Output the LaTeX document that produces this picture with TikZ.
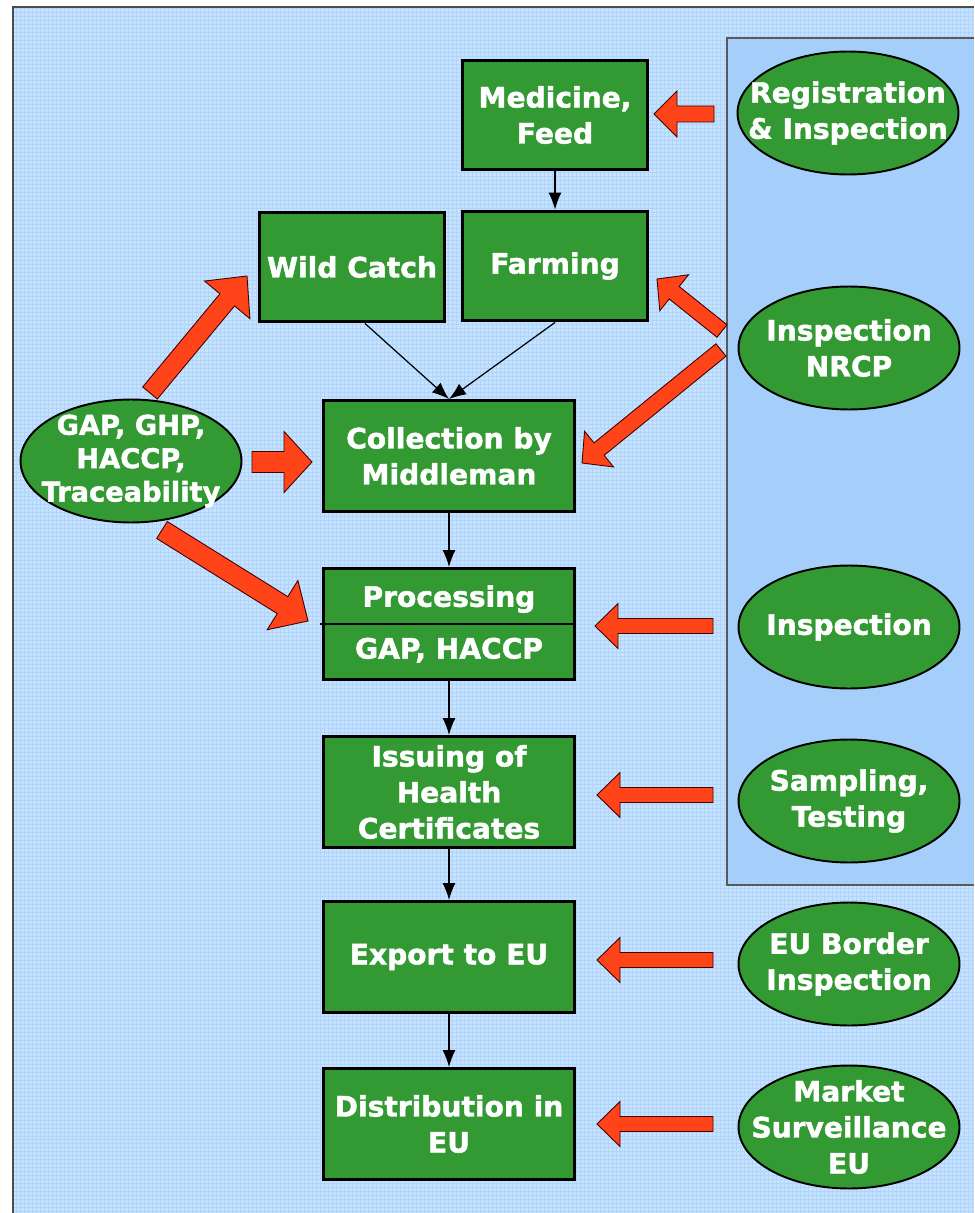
\documentclass[tikz,border=0pt]{standalone}
\usepackage{fontspec}
\setmainfont{DejaVu Sans}
\newfontfamily\heavyfont{DejaVu Sans Bold}[FakeBold=1.6]
\usetikzlibrary{calc, shapes.geometric, arrows.meta}

\definecolor{bgblue}{HTML}{C6E2FF}
\definecolor{gridblue}{HTML}{A6D0FA}
\definecolor{panelblue}{HTML}{A4CFFA}
\definecolor{boxgreen}{HTML}{339933}
\definecolor{arrowred}{HTML}{FF441A}

\tikzset{
  box/.style={draw=black, line width=1.7pt, fill=boxgreen, minimum width=3.72cm,
    minimum height=2.2cm, inner sep=0pt, text=white, align=center,
    font=\heavyfont\fontsize{16}{20.5}\selectfont},
  widebox/.style={box, minimum width=5.04cm, minimum height=2.22cm},
  oval/.style={ellipse, draw=black, line width=1.1pt, fill=boxgreen,
    minimum width=4.42cm, minimum height=2.46cm, inner sep=0pt},
  ovaltext/.style={text=white, align=center, inner sep=0pt,
    font=\heavyfont\fontsize{16}{20.5}\selectfont},
  flow/.style={-{Latex[length=3.4mm,width=2.6mm]}, line width=0.7pt},
  block/.style={fill=arrowred, draw=black!75!red, line width=0.5pt, line join=miter},
}

% red block arrow: tail, tip, half shaft, half head, head length
\newcommand{\redarrow}[5]{%
  \coordinate (ra-b) at ($(#2)!#5!(#1)$);
  \draw[block] (#2) -- ($(ra-b)!#4!90:(#2)$) -- ($(ra-b)!#3!90:(#2)$)
    -- ($(#1)!#3!90:(#2)$) -- ($(#1)!#3!-90:(#2)$) -- ($(ra-b)!#3!-90:(#2)$)
    -- ($(ra-b)!#4!-90:(#2)$) -- cycle;
}

\begin{document}
\begin{tikzpicture}[x=0.02cm, y=-0.02cm]
\useasboundingbox (0,0) rectangle (974,1213);
% background
\fill[white] (0,0) rectangle (974,1213);
\fill[bgblue] (13,7) rectangle (974,1213);
\fill[panelblue] (727,38) rectangle (974,885);
\draw[gridblue, opacity=0.7, line width=0.35pt, step=0.08cm] (13,7) grid (974,1213);
\draw[black!70, line width=1pt] (13,1213) -- (13,7) -- (974,7);
\draw[black!65, line width=0.6pt] (974,38) -- (727,38) -- (727,885) -- (974,885);

% chain
\node[box] (med) at (555,115) {Medicine,\\Feed};
\node[box] (wild) at (352,267) {Wild Catch};
\node[box] (farm) at (555,266) {Farming};
\node[widebox] (coll) at (449,456) {Collection by\\Middleman};
\node[widebox] (proc) at (449,624) {Processing\\[9pt]GAP, HACCP};
\draw[line width=0.6pt] ($(proc.west)+(-2,0)$) -- (proc.east);
\node[widebox] (issue) at (449,792) {Issuing of\\Health\\Certificates};
\node[widebox] (export) at (449,957) {Export to EU};
\node[widebox] (distr) at (449,1124) {Distribution in\\EU};

\draw[flow] (med) -- (farm);
\draw[flow] ($(wild.south)+(13,0)$) -- (coll.north);
\draw[flow] (farm.south) -- (coll.north);
\draw[flow] (coll) -- (proc);
\draw[flow] (proc) -- (issue);
\draw[flow] (issue) -- (export);
\draw[flow] (export) -- (distr);

% controls
\node[oval] (reg) at (848,113) {};
\node[ovaltext] (reg-t) at (reg) {Registration\\\& Inspection};
\node[oval] (nrcp) at (849,348) {};
\node[ovaltext] (nrcp-t) at (nrcp) {Inspection\\NRCP};
\node[oval] (gap) at (131,461) {};
\node[ovaltext, font=\heavyfont\fontsize{15.5}{19}\selectfont] (gap-t) at (gap) {GAP, GHP,\\HACCP,\\Traceability};
\node[oval] (insp) at (849,627) {};
\node[ovaltext] (insp-t) at (insp) {Inspection};
\node[oval] (samp) at (849,801) {};
\node[ovaltext] (samp-t) at (samp) {Sampling,\\Testing};
\node[oval] (bord) at (849,964) {};
\node[ovaltext] (bord-t) at (bord) {EU Border\\Inspection};
\node[oval] (mark) at (849,1127) {};
\node[ovaltext] (mark-t) at (mark) {Market\\Surveillance\\EU};

% red arrows
\coordinate (reg-o) at (714,114);   \coordinate (med-i) at (654,114);
\coordinate (nrcp-o1) at (722,331); \coordinate (farm-i) at (657,279);
\coordinate (nrcp-o2) at (721,350); \coordinate (coll-i1) at (582,463);
\coordinate (gap-o1) at (150,393);  \coordinate (wild-i) at (247,276);
\coordinate (gap-o2) at (252,462);  \coordinate (coll-i2) at (312,462);
\coordinate (gap-o3) at (162,530);  \coordinate (proc-i1) at (308,621);
\coordinate (insp-o) at (713,626);  \coordinate (proc-i2) at (595,626);
\coordinate (samp-o) at (713,795);  \coordinate (issue-i) at (597,795);
\coordinate (bord-o) at (713,960);  \coordinate (export-i) at (597,960);
\coordinate (mark-o) at (713,1124); \coordinate (distr-i) at (597,1124);

\redarrow{reg-o}{med-i}{0.16cm}{0.46cm}{0.46cm}
\redarrow{nrcp-o1}{farm-i}{0.16cm}{0.46cm}{0.44cm}
\redarrow{nrcp-o2}{coll-i1}{0.16cm}{0.46cm}{0.44cm}
\redarrow{gap-o1}{wild-i}{0.19cm}{0.59cm}{0.62cm}
\redarrow{gap-o2}{coll-i2}{0.21cm}{0.61cm}{0.56cm}
\redarrow{gap-o3}{proc-i1}{0.2cm}{0.58cm}{0.6cm}
\redarrow{insp-o}{proc-i2}{0.15cm}{0.45cm}{0.46cm}
\redarrow{samp-o}{issue-i}{0.15cm}{0.45cm}{0.46cm}
\redarrow{bord-o}{export-i}{0.15cm}{0.45cm}{0.46cm}
\redarrow{mark-o}{distr-i}{0.15cm}{0.45cm}{0.46cm}
\end{tikzpicture}
\end{document}
